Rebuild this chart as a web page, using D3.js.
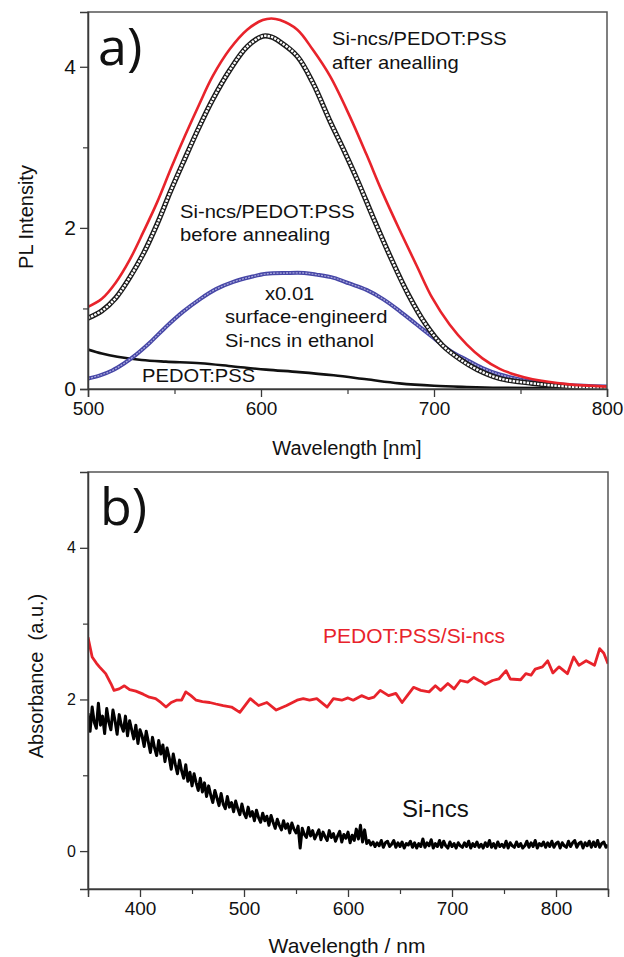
<!DOCTYPE html>
<html>
<head>
<meta charset="utf-8">
<script src="https://cdn.jsdelivr.net/npm/d3@7"></script>
<style>
  body { margin: 0; background: #fff; }
  svg { display: block; font-family: "Liberation Sans", Arial, sans-serif; }
</style>
</head>
<body>
<svg id="chart" width="624" height="957"></svg>
<script>
// ---- panel a) PL spectra ----
var plAfterWl  = [500, 508, 516, 524, 532, 540, 548, 556, 564, 572, 582, 592, 601, 606, 611, 621, 630, 640, 651, 661, 670, 680, 690, 699, 709, 719, 728, 738, 748, 757, 777, 800];
var plAfter    = [1.02, 1.12, 1.32, 1.60, 1.95, 2.32, 2.74, 3.14, 3.52, 3.88, 4.22, 4.46, 4.58, 4.60, 4.58, 4.46, 4.21, 3.88, 3.40, 2.91, 2.45, 1.98, 1.53, 1.13, 0.80, 0.55, 0.38, 0.25, 0.17, 0.12, 0.06, 0.03];

var plBeforeWl = [500, 508, 516, 524, 532, 540, 548, 556, 564, 572, 582, 592, 601, 606, 611, 621, 630, 640, 648, 656, 665, 675, 685, 695, 705, 715, 725, 738, 757, 777, 800];
var plBefore   = [0.88, 0.97, 1.13, 1.38, 1.68, 2.05, 2.47, 2.86, 3.24, 3.59, 3.96, 4.25, 4.38, 4.37, 4.31, 4.13, 3.80, 3.32, 2.96, 2.58, 2.12, 1.63, 1.18, 0.81, 0.54, 0.37, 0.24, 0.13, 0.07, 0.03, 0.01];

var plNcsWl    = [500, 507, 514, 521, 528, 536, 545, 555, 565, 574, 584, 594, 603, 615, 625, 632, 642, 651, 661, 671, 680, 690, 700, 709, 719, 728, 738, 757, 777, 800];
var plNcs      = [0.13, 0.17, 0.23, 0.32, 0.43, 0.58, 0.77, 0.96, 1.12, 1.24, 1.33, 1.39, 1.43, 1.44, 1.44, 1.42, 1.38, 1.31, 1.23, 1.11, 0.97, 0.80, 0.63, 0.48, 0.36, 0.26, 0.18, 0.09, 0.05, 0.03];

var plPedotWl  = [500, 508, 517, 531, 545, 565, 584, 603, 622, 642, 661, 680, 700, 719, 738, 777, 800];
var plPedot    = [0.49, 0.44, 0.40, 0.36, 0.34, 0.32, 0.28, 0.24, 0.21, 0.17, 0.12, 0.07, 0.04, 0.025, 0.015, 0.01, 0.01];

var plXTicks = [500, 600, 700, 800];
var plYTicks = [0, 2, 4];

// ---- panel b) absorbance ----
var absRedWl = [350, 354, 358, 361, 367, 372, 375, 380, 385, 390, 396, 403, 409, 415, 420, 425, 430, 435, 440, 444, 449, 454, 460, 467, 473, 480, 488, 496, 506, 514, 522, 531, 541, 551, 557, 563, 570, 580, 586, 594, 600, 605, 613, 620, 625, 631, 639, 646, 652, 657, 663, 670, 678, 684, 689, 696, 702, 708, 715, 721, 726, 729, 732, 739, 745, 752, 756, 766, 771, 776, 780, 787, 792, 797, 803, 811, 817, 822, 829, 837, 842, 846, 850];
var absRed   = [2.82, 2.56, 2.48, 2.43, 2.34, 2.21, 2.12, 2.14, 2.18, 2.13, 2.11, 2.07, 2.03, 2.01, 1.96, 1.90, 1.96, 1.99, 1.99, 2.10, 2.05, 1.99, 1.97, 1.96, 1.94, 1.92, 1.90, 1.83, 2.01, 1.92, 1.96, 1.86, 1.92, 1.99, 2.01, 1.99, 2.01, 1.90, 2.01, 1.99, 2.02, 1.99, 2.05, 2.01, 2.03, 2.12, 2.05, 2.08, 1.96, 2.05, 2.16, 2.12, 2.10, 2.18, 2.12, 2.21, 2.14, 2.25, 2.23, 2.29, 2.25, 2.23, 2.20, 2.25, 2.27, 2.38, 2.27, 2.26, 2.34, 2.32, 2.40, 2.43, 2.51, 2.35, 2.43, 2.34, 2.56, 2.45, 2.51, 2.45, 2.67, 2.61, 2.47];

// Si-ncs absorbance, every 2 nm from 350 nm
var absNcsStart = 350, absNcsStep = 2;
var absNcs = [
  1.82, 1.58, 1.90, 1.70, 1.62, 1.95, 1.66, 1.78, 1.55, 1.88,
  1.70, 1.60, 1.86, 1.72, 1.54, 1.80, 1.66, 1.58, 1.78, 1.52,
  1.72, 1.60, 1.48, 1.66, 1.42, 1.60, 1.52, 1.38, 1.58, 1.44,
  1.30, 1.50, 1.36, 1.26, 1.46, 1.28, 1.40, 1.18, 1.36, 1.24,
  1.08, 1.28, 1.14, 1.02, 1.20, 1.06, 0.96, 1.14, 0.92, 1.04,
  0.86, 1.02, 0.90, 0.80, 0.96, 0.78, 0.90, 0.72, 0.86, 0.74,
  0.64, 0.80, 0.70, 0.60, 0.76, 0.62, 0.56, 0.72, 0.58, 0.64,
  0.52, 0.66, 0.56, 0.48, 0.62, 0.50, 0.44, 0.58, 0.46, 0.52,
  0.40, 0.54, 0.44, 0.38, 0.50, 0.40, 0.46, 0.34, 0.47, 0.38,
  0.30, 0.42, 0.34, 0.28, 0.40, 0.30, 0.36, 0.24, 0.37, 0.29,
  0.24, 0.33, 0.04, 0.30, 0.22, 0.18, 0.31, 0.20, 0.27, 0.16,
  0.22, 0.28, 0.15, 0.25, 0.19, 0.14, 0.27, 0.18, 0.23, 0.13,
  0.20, 0.26, 0.12, 0.22, 0.17, 0.25, 0.11, 0.21, 0.14, 0.29,
  0.16, 0.34, 0.12, 0.28, 0.10, 0.14, 0.08, 0.12, 0.06, 0.11,
  0.07, 0.14, 0.05, 0.11, 0.13, 0.06, 0.09, 0.14, 0.05, 0.11,
  0.06, 0.12, 0.04, 0.10, 0.08, 0.13, 0.05, 0.11, 0.04, 0.10,
  0.06, 0.16, 0.05, 0.11, 0.07, 0.15, 0.04, 0.10, 0.06, 0.14,
  0.05, 0.13, 0.07, 0.04, 0.12, 0.06, 0.10, 0.04, 0.11, 0.07,
  0.05, 0.11, 0.06, 0.13, 0.04, 0.10, 0.06, 0.12, 0.05, 0.09,
  0.04, 0.11, 0.06, 0.14, 0.05, 0.10, 0.04, 0.12, 0.06, 0.09,
  0.05, 0.13, 0.04, 0.11, 0.07, 0.05, 0.12, 0.06, 0.10, 0.04,
  0.07, 0.13, 0.05, 0.11, 0.06, 0.14, 0.04, 0.10, 0.07, 0.12,
  0.05, 0.11, 0.06, 0.13, 0.05, 0.10, 0.12, 0.04, 0.11, 0.07,
  0.05, 0.13, 0.06, 0.11, 0.14, 0.05, 0.10, 0.12, 0.04, 0.11,
  0.07, 0.13, 0.05, 0.12, 0.06, 0.14, 0.05, 0.10, 0.12, 0.05,
  0.08
];

var absXTicks = [400, 500, 600, 700, 800];
var absYTicks = [0, 2, 4];

var axisColor = '#3a3a3a';
var svg = d3.select('#chart');

function zip(xs, ys) {
  return xs.map(function(x, i) { return [x, ys[i]]; });
}

function drawFrame(g, x, y, opts) {
  var x0 = x.range()[0], x1 = x.range()[1];
  var y0 = y.range()[0], y1 = y.range()[1];

  // frame
  g.append('rect')
    .attr('x', x0).attr('y', y1)
    .attr('width', x1 - x0).attr('height', y0 - y1)
    .attr('fill', 'none').attr('stroke', '#555').attr('stroke-width', 1.5);

  var xAxis = d3.axisBottom(x).tickValues(opts.xTicks).tickSize(8).tickPadding(5).tickFormat(d3.format('d'));
  var gx = g.append('g').attr('transform', 'translate(0,' + y0 + ')').call(xAxis);
  gx.selectAll('line').attr('stroke', axisColor).attr('stroke-width', 1.3);
  gx.select('.domain').attr('stroke', axisColor).attr('stroke-width', 1.5);
  gx.selectAll('text').attr('font-size', opts.xFont).attr('fill', '#111')
    .attr('font-family', '"Liberation Sans", Arial, sans-serif');

  var gxm = g.append('g').attr('transform', 'translate(0,' + y0 + ')')
    .call(d3.axisBottom(x).tickValues(opts.xMinor).tickSize(5).tickFormat(''));
  gxm.select('.domain').remove();
  gxm.selectAll('line').attr('stroke', axisColor).attr('stroke-width', 1.2);

  var yAxis = d3.axisLeft(y).tickValues(opts.yTicks).tickSize(8).tickPadding(4).tickFormat(d3.format('d'));
  var gy = g.append('g').attr('transform', 'translate(' + x0 + ',0)').call(yAxis);
  gy.selectAll('line').attr('stroke', axisColor).attr('stroke-width', 1.3);
  gy.select('.domain').attr('stroke', axisColor).attr('stroke-width', 1.5);
  gy.selectAll('text').attr('font-size', opts.yFont).attr('fill', '#111')
    .attr('font-family', '"Liberation Sans", Arial, sans-serif');

  var gym = g.append('g').attr('transform', 'translate(' + x0 + ',0)')
    .call(d3.axisLeft(y).tickValues(opts.yMinor).tickSize(5).tickFormat(''));
  gym.select('.domain').remove();
  gym.selectAll('line').attr('stroke', axisColor).attr('stroke-width', 1.2);
}

function addClip(id, x, y) {
  svg.append('clipPath').attr('id', id).append('rect')
    .attr('x', x.range()[0]).attr('y', y.range()[1])
    .attr('width', x.range()[1] - x.range()[0])
    .attr('height', y.range()[0] - y.range()[1]);
}

// text placed with a slight horizontal stretch, like the original figure
function label(g, txt, x, y, size, color, sx) {
  return g.append('text')
    .attr('transform', 'translate(' + x + ',' + y + ') scale(' + (sx || 1) + ',1)')
    .attr('font-size', size).attr('fill', color || '#111').text(txt);
}

// ================= panel a =================
var xa = d3.scaleLinear().domain([500, 800]).range([88, 607]);
var ya = d3.scaleLinear().domain([0, 4.68]).range([389, 12]);
var ga = svg.append('g');
addClip('clipA', xa, ya);

var lineA = d3.line()
  .x(function(d) { return xa(d[0]); })
  .y(function(d) { return ya(d[1]); })
  .curve(d3.curveCatmullRom.alpha(0.5));

var curvesA = ga.append('g').attr('clip-path', 'url(#clipA)');

curvesA.append('path').datum(zip(plPedotWl, plPedot))
  .attr('d', lineA).attr('fill', 'none').attr('stroke', '#111').attr('stroke-width', 2.6);

// surface-engineered Si-ncs (dense blue symbols)
curvesA.append('path').datum(zip(plNcsWl, plNcs))
  .attr('d', lineA).attr('fill', 'none').attr('stroke', '#4646a6').attr('stroke-width', 4);
curvesA.append('path').datum(zip(plNcsWl, plNcs))
  .attr('d', lineA).attr('fill', 'none').attr('stroke', '#a8a8dc').attr('stroke-width', 1.3)
  .attr('stroke-dasharray', '2,1.2');

// before annealing (open circles)
curvesA.append('path').datum(zip(plBeforeWl, plBefore))
  .attr('d', lineA).attr('fill', 'none').attr('stroke', '#1a1a1a').attr('stroke-width', 5.2);
curvesA.append('path').datum(zip(plBeforeWl, plBefore))
  .attr('d', lineA).attr('fill', 'none').attr('stroke', '#fff').attr('stroke-width', 2.4)
  .attr('stroke-dasharray', '2.4,1.1');

// after annealing
curvesA.append('path').datum(zip(plAfterWl, plAfter))
  .attr('d', lineA).attr('fill', 'none').attr('stroke', '#e8232b').attr('stroke-width', 2.6);

drawFrame(ga, xa, ya, {
  xTicks: plXTicks, xMinor: [550, 650, 750],
  yTicks: plYTicks, yMinor: [1, 3],
  xFont: 19, yFont: 21
});

label(ga, 'a)', 98, 65, 52).attr('font-family', '"Open Sans", sans-serif');
label(ga, 'Si-ncs/PEDOT:PSS', 332, 45, 18, null, 1.12);
label(ga, 'after anealling', 332, 69, 18, null, 1.12);
label(ga, 'Si-ncs/PEDOT:PSS', 180, 218, 18, null, 1.12);
label(ga, 'before annealing', 180, 241, 18, null, 1.12);
label(ga, 'x0.01', 265, 300, 18, null, 1.12);
label(ga, 'surface-engineerd', 225, 323, 18, null, 1.12);
label(ga, 'Si-ncs in ethanol', 225, 347, 18, null, 1.12);
label(ga, 'PEDOT:PSS', 142, 382, 18, null, 1.12);

label(ga, 'Wavelength [nm]', 347, 455, 20).attr('text-anchor', 'middle');
ga.append('text')
  .attr('transform', 'translate(33,217) rotate(-90)')
  .attr('text-anchor', 'middle').attr('font-size', 20).attr('fill', '#111')
  .text('PL Intensity');

// ================= panel b =================
var xb = d3.scaleLinear().domain([350, 850]).range([88, 608]);
var yb = d3.scaleLinear().domain([-0.5, 5]).range([889, 472]);
var gb = svg.append('g');
addClip('clipB', xb, yb);

var lineB = d3.line()
  .x(function(d) { return xb(d[0]); })
  .y(function(d) { return yb(d[1]); });

var curvesB = gb.append('g').attr('clip-path', 'url(#clipB)');

var ncsData = absNcs.map(function(v, i) { return [absNcsStart + i * absNcsStep, v]; });
curvesB.append('path').datum(ncsData)
  .attr('d', lineB).attr('fill', 'none').attr('stroke', '#000').attr('stroke-width', 3)
  .attr('stroke-linejoin', 'round');

curvesB.append('path').datum(zip(absRedWl, absRed))
  .attr('d', lineB).attr('fill', 'none').attr('stroke', '#e8232b').attr('stroke-width', 2.8)
  .attr('stroke-linejoin', 'round');

drawFrame(gb, xb, yb, {
  xTicks: absXTicks, xMinor: [350, 450, 550, 650, 750, 850],
  yTicks: absYTicks, yMinor: [1, 3],
  xFont: 19, yFont: 16
});

label(gb, 'b)', 100, 525, 52).attr('font-family', '"Open Sans", sans-serif');
label(gb, 'PEDOT:PSS/Si-ncs', 323, 643, 21, '#e8232b');
label(gb, 'Si-ncs', 402, 817, 24);

label(gb, 'Wavelength / nm', 347, 953, 21).attr('text-anchor', 'middle');
gb.append('text')
  .attr('transform', 'translate(43,676) rotate(-90)')
  .attr('text-anchor', 'middle').attr('font-size', 20).attr('fill', '#111')
  .attr('xml:space', 'preserve').style('white-space', 'pre')
  .text('Absorbance  (a.u.)');
</script>
</body>
</html>
